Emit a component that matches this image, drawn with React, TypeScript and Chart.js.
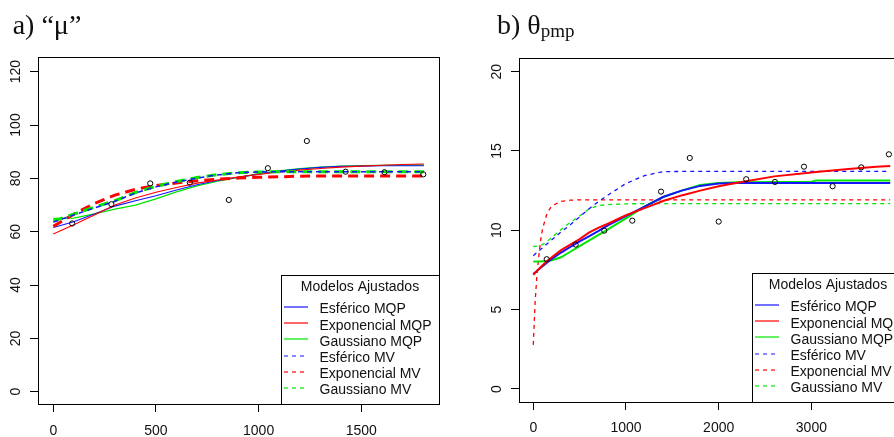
import React, { useEffect, useRef } from 'react';
import { Chart, registerables } from 'chart.js';

Chart.register(...registerables);

// ---------------- panel a) "μ" ----------------
const muLagX = [92, 283, 472, 665, 855, 1045, 1235, 1424, 1613, 1802];
const muGamma = [63.1, 70.3, 78.1, 78.4, 71.9, 83.8, 94.0, 82.5, 82.3, 81.5];
const muModelX = [0, 100, 200, 300, 400, 500, 600, 700, 800, 900, 1000, 1100, 1200, 1300, 1400, 1500, 1600, 1700, 1805];
const muEsfericoMQP = [61.6, 63.7, 66.6, 69.6, 71.6, 73.5, 75.6, 77.6, 79.2, 80.4, 81.6, 82.7, 83.5, 84.1, 84.5, 84.6, 84.7, 84.7, 84.7];
const muExponencialMQP = [59.1, 62.6, 66.3, 70.0, 72.6, 74.8, 76.6, 78.2, 79.4, 80.5, 81.5, 82.4, 83.1, 83.7, 84.2, 84.6, 84.9, 85.2, 85.4];
const muGaussianoMQP = [65.0, 65.1, 66.7, 68.5, 70.0, 72.3, 74.9, 77.2, 79.0, 80.4, 81.7, 82.8, 83.6, 84.2, 84.6, 84.8, 84.9, 85.0, 85.0];
const muEsfericoMV = [63.6, 66.3, 68.9, 71.4, 74.5, 76.8, 78.6, 80.1, 81.3, 82.1, 82.4, 82.5, 82.5, 82.5, 82.5, 82.5, 82.5, 82.5, 82.5];
const muExponencialMV = [62.0, 66.6, 70.6, 73.7, 75.9, 77.3, 78.3, 79.1, 79.7, 80.1, 80.4, 80.6, 80.8, 80.9, 80.9, 80.9, 80.9, 80.9, 80.9];
const muGaussianoMV = [64.0, 66.6, 69.2, 71.6, 74.7, 77.0, 78.8, 80.3, 81.4, 82.1, 82.4, 82.5, 82.5, 82.5, 82.5, 82.5, 82.5, 82.5, 82.5];
const muXTicks = [0, 500, 1000, 1500];
const muYTicks = [0, 20, 40, 60, 80, 100, 120];

// ---------------- panel b) θpmp ----------------
const thLagX = [145, 457, 766, 1068, 1378, 1688, 2000, 2297, 2607, 2920, 3229, 3538, 3836];
const thGamma = [8.18, 9.10, 9.98, 10.61, 12.44, 14.56, 10.55, 13.22, 13.05, 14.01, 12.78, 13.97, 14.79];
const thModelX = [0, 20, 40, 60, 80, 100, 150, 200, 300, 400, 500, 600, 700, 800, 1000, 1200, 1400, 1600, 1800, 2000, 2200, 2600, 3000, 3050, 3400, 3700, 3850];
const thEsfericoMQP = [7.24, 7.34, 7.44, 7.54, 7.64, 7.74, 7.98, 8.2, 8.6, 8.95, 9.3, 9.62, 9.95, 10.3, 10.9, 11.5, 12.1, 12.5, 12.8, 12.95, 12.98, 12.98, 12.98, 12.98, 12.98, 12.98, 12.98];
const thExponencialMQP = [7.2, 7.32, 7.44, 7.56, 7.68, 7.8, 8.06, 8.3, 8.75, 9.1, 9.45, 9.85, 10.15, 10.4, 10.95, 11.4, 11.85, 12.2, 12.5, 12.78, 13.0, 13.4, 13.65, 13.68, 13.87, 14.0, 14.05];
const thGaussianoMQP = [8.03, 8.03, 8.03, 8.04, 8.04, 8.05, 8.08, 8.12, 8.3, 8.65, 9.0, 9.35, 9.7, 10.05, 10.75, 11.5, 12.1, 12.5, 12.85, 12.98, 13.03, 13.05, 13.06, 13.14, 13.14, 13.14, 13.14];
const thEsfericoMV = [8.4, 8.5, 8.6, 8.7, 8.8, 8.9, 9.15, 9.4, 9.9, 10.35, 10.85, 11.35, 11.8, 12.2, 12.95, 13.45, 13.7, 13.71, 13.71, 13.71, 13.71, 13.71, 13.71, 13.71, 13.71, 13.71, 13.71];
const thExponencialMV = [2.78, 5.5, 7.2, 8.4, 9.4, 10.1, 11.1, 11.55, 11.82, 11.9, 11.92, 11.92, 11.92, 11.92, 11.92, 11.92, 11.92, 11.92, 11.92, 11.92, 11.92, 11.92, 11.92, 11.92, 11.92, 11.92, 11.92];
const thGaussianoMV = [8.98, 8.99, 9.0, 9.02, 9.05, 9.1, 9.3, 9.55, 10.05, 10.5, 10.9, 11.35, 11.55, 11.62, 11.67, 11.68, 11.68, 11.68, 11.68, 11.68, 11.68, 11.68, 11.68, 11.68, 11.68, 11.68, 11.68];
const thXTicks = [0, 1000, 2000, 3000];
const thYTicks = [0, 5, 10, 15, 20];

const legendTitle = 'Modelos Ajustados';
const modelLabels = ['Esférico MQP', 'Exponencial MQP', 'Gaussiano MQP', 'Esférico MV', 'Exponencial MV', 'Gaussiano MV'];

const BLUE = 'rgb(20,20,255)';
const RED = 'rgb(255,0,0)';
const GREEN = 'rgb(0,230,0)';
const SANS = '"Liberation Sans", Arial, Helvetica, sans-serif';

type SeriesStyle = { color: string; width: number; dash: number[]; order: number };

type PanelSpec = {
  lagX: number[];
  gamma: number[];
  modelX: number[];
  models: number[][];
  styles: SeriesStyle[];
  xMin: number; xMax: number; yMin: number; yMax: number;
  xTicks: number[]; yTicks: number[];
  yAxisWidth: number; xAxisHeight: number;
  padTop: number; padRight: number;
  yLabelPad: number; xLabelPad: number;
  legendLeft: number; legendTop: number;
};

const legendDash = [[], [], [], [4, 4], [4, 4], [4, 4]];
const legendColors = [BLUE, RED, GREEN, BLUE, RED, GREEN];

function frameLegendPlugin(spec: PanelSpec) {
  return {
    id: 'frameLegend',
    afterDraw(chart: any) {
      const { ctx, chartArea: a } = chart;
      ctx.save();
      const bx = spec.legendLeft, by = spec.legendTop;
      const bw = a.right - bx, bh = a.bottom - by;
      ctx.fillStyle = '#ffffff';
      ctx.fillRect(bx, by, bw, bh);
      ctx.strokeStyle = '#000';
      ctx.lineWidth = 1;
      ctx.setLineDash([]);
      ctx.strokeRect(Math.round(bx) + 0.5, Math.round(by) + 0.5, Math.round(bw), Math.round(bh));
      ctx.font = `14px ${SANS}`;
      ctx.fillStyle = '#111';
      ctx.textBaseline = 'middle';
      ctx.textAlign = 'center';
      ctx.fillText(legendTitle, bx + bw / 2, by + 12.5);
      ctx.textAlign = 'left';
      modelLabels.forEach((lab, i) => {
        const cy = by + 34.5 + i * 16.2;
        const ly = Math.round(cy - 2.5);
        ctx.beginPath();
        ctx.setLineDash(legendDash[i]);
        ctx.strokeStyle = legendColors[i];
        ctx.lineWidth = 1.2;
        ctx.moveTo(bx + 3, ly);
        ctx.lineTo(bx + 27, ly);
        ctx.stroke();
        ctx.setLineDash([]);
        ctx.fillText(lab, bx + 38.5, cy);
      });
      ctx.strokeStyle = '#000';
      ctx.lineWidth = 1;
      ctx.strokeRect(a.left + 0.5, a.top + 0.5, a.right - a.left, a.bottom - a.top);
      ctx.restore();
    },
  };
}

function buildConfig(spec: PanelSpec): any {
  const pointData = spec.lagX.map((x, i) => ({ x, y: spec.gamma[i] }));
  const lineSets = spec.models.map((vals, k) => ({
    label: modelLabels[k],
    data: spec.modelX.map((x, i) => ({ x, y: vals[i] })),
    showLine: true,
    borderColor: spec.styles[k].color,
    backgroundColor: spec.styles[k].color,
    pointBorderColor: spec.styles[k].color,
    borderWidth: spec.styles[k].width,
    borderDash: spec.styles[k].dash,
    pointRadius: 0,
    fill: false,
    tension: 0,
    order: spec.styles[k].order,
  }));
  const tickFont = { family: SANS, size: 14 };
  return {
    type: 'scatter',
    data: {
      datasets: [
        {
          label: 'semivariância',
          data: pointData,
          showLine: false,
          pointStyle: 'circle',
          pointRadius: 2.6,
          pointBorderWidth: 1,
          borderColor: '#000',
          backgroundColor: 'rgba(0,0,0,0)',
          order: 0,
        },
        ...lineSets,
      ],
    },
    options: {
      animation: false,
      responsive: false,
      maintainAspectRatio: false,
      devicePixelRatio: 1,
      layout: { padding: { left: 0, top: spec.padTop, right: spec.padRight, bottom: 0 } },
      plugins: { legend: { display: false }, tooltip: { enabled: false }, title: { display: false }, colors: { enabled: false } },
      scales: {
        x: {
          type: 'linear',
          min: spec.xMin,
          max: spec.xMax,
          afterBuildTicks: (s: any) => { s.ticks = spec.xTicks.map((v) => ({ value: v })); },
          afterFit: (s: any) => { s.height = spec.xAxisHeight; s.paddingLeft = 0; s.paddingRight = 0; },
          border: { display: false },
          grid: { display: true, drawOnChartArea: false, drawTicks: true, tickLength: 8, tickColor: '#000', tickWidth: 1 },
          ticks: { color: '#111', font: tickFont, padding: spec.xLabelPad, maxRotation: 0, minRotation: 0, autoSkip: false, callback: (v: any) => String(v) },
        },
        y: {
          type: 'linear',
          min: spec.yMin,
          max: spec.yMax,
          afterBuildTicks: (s: any) => { s.ticks = spec.yTicks.map((v) => ({ value: v })); },
          afterFit: (s: any) => { s.width = spec.yAxisWidth; s.paddingTop = 0; s.paddingBottom = 0; },
          border: { display: false },
          grid: { display: true, drawOnChartArea: false, drawTicks: true, tickLength: 8, tickColor: '#000', tickWidth: 1 },
          ticks: { color: '#111', font: tickFont, padding: spec.yLabelPad, minRotation: 90, maxRotation: 90, crossAlign: 'center', autoSkip: false, callback: (v: any) => String(v) },
        },
      },
    },
    plugins: [frameLegendPlugin(spec)],
  };
}

const panelA: PanelSpec = {
  lagX: muLagX,
  gamma: muGamma,
  modelX: muModelX,
  models: [muEsfericoMQP, muExponencialMQP, muGaussianoMQP, muEsfericoMV, muExponencialMV, muGaussianoMV],
  styles: [
    { color: BLUE, width: 1.1, dash: [], order: 5 },
    { color: RED, width: 1.1, dash: [], order: 4 },
    { color: GREEN, width: 1.3, dash: [], order: 6 },
    { color: BLUE, width: 1.5, dash: [5, 4], order: 1 },
    { color: RED, width: 3, dash: [10, 6], order: 3 },
    { color: GREEN, width: 3, dash: [10, 6], order: 2 },
  ],
  xMin: -74.5, xMax: 1878.7, yMin: -4.6, yMax: 125.5,
  xTicks: muXTicks, yTicks: muYTicks,
  yAxisWidth: 38, xAxisHeight: 33, padTop: 57, padRight: 8,
  yLabelPad: 2.3, xLabelPad: 10.6,
  legendLeft: 281, legendTop: 275,
};

const panelB: PanelSpec = {
  lagX: thLagX,
  gamma: thGamma,
  modelX: thModelX,
  models: [thEsfericoMQP, thExponencialMQP, thGaussianoMQP, thEsfericoMV, thExponencialMV, thGaussianoMV],
  styles: [
    { color: BLUE, width: 2, dash: [], order: 2 },
    { color: RED, width: 2, dash: [], order: 1 },
    { color: GREEN, width: 2, dash: [], order: 3 },
    { color: BLUE, width: 1.3, dash: [4, 4], order: 4 },
    { color: RED, width: 1.3, dash: [4, 4], order: 5 },
    { color: GREEN, width: 1.3, dash: [4, 4], order: 6 },
  ],
  xMin: -154, xMax: 3999, yMin: -0.82, yMax: 20.86,
  xTicks: thXTicks, yTicks: thYTicks,
  yAxisWidth: 72, xAxisHeight: 35, padTop: 58, padRight: 13,
  yLabelPad: 6.5, xLabelPad: 9.9,
  legendLeft: 305, legendTop: 273,
};

const titleStyle: React.CSSProperties = {
  position: 'absolute',
  fontFamily: '"Liberation Serif", "Times New Roman", serif',
  fontSize: 28,
  lineHeight: '28px',
  color: '#111',
  whiteSpace: 'nowrap',
};

export default function App() {
  const refA = useRef<HTMLCanvasElement>(null);
  const refB = useRef<HTMLCanvasElement>(null);
  useEffect(() => {
    const a = new Chart(refA.current as HTMLCanvasElement, buildConfig(panelA));
    const b = new Chart(refB.current as HTMLCanvasElement, buildConfig(panelB));
    return () => { a.destroy(); b.destroy(); };
  }, []);
  return (
    <div style={{ position: 'absolute', left: 0, top: 0, width: 894, height: 437, overflow: 'hidden', background: '#fff' }}>
      <canvas ref={refA} width={447} height={437} style={{ position: 'absolute', left: 0, top: 0, width: 447, height: 437 }} />
      <canvas ref={refB} width={470} height={437} style={{ position: 'absolute', left: 447, top: 0, width: 470, height: 437 }} />
      <div style={{ ...titleStyle, left: 12.7, top: 11 }}>a) “μ”</div>
      <div style={{ ...titleStyle, left: 497, top: 11 }}>
        b) θ<span style={{ fontSize: 19, position: 'relative', top: 3 }}>pmp</span>
      </div>
    </div>
  );
}
